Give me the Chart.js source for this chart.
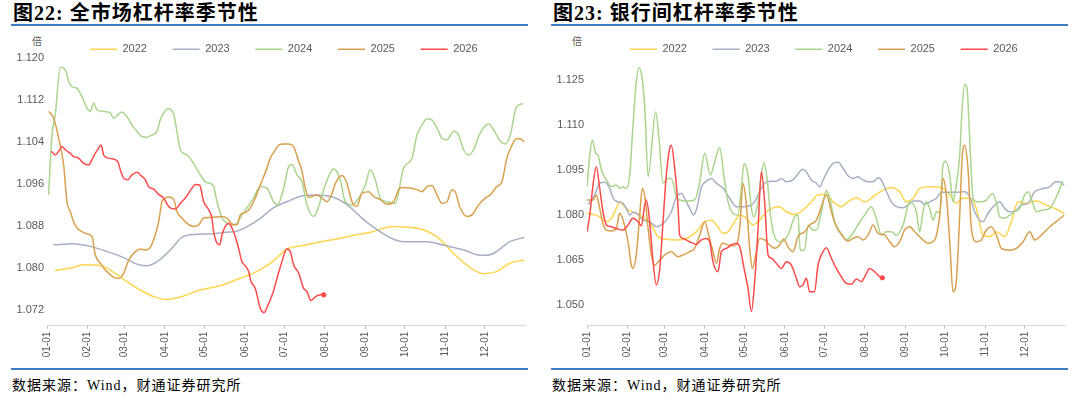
<!DOCTYPE html>
<html><head><meta charset="utf-8">
<script src="https://cdn.jsdelivr.net/npm/chart.js@4"></script>
<style>
body{margin:0;background:#fff;width:1080px;height:405px;overflow:hidden;position:relative;}
.panel{position:absolute;top:0;width:540px;height:405px;}
.title{position:absolute;left:13px;top:1px;font-weight:bold;font-size:20px;letter-spacing:1px;font-family:"Liberation Serif","Noto Sans CJK SC",serif;color:#000;white-space:nowrap;line-height:24px;}
.rule{position:absolute;left:11px;width:517px;height:2px;background:#3F7CC0;}
.unit{position:absolute;left:32px;top:35px;font-size:10px;font-family:"Noto Sans CJK SC",sans-serif;color:#595959;line-height:12px;}
.src{position:absolute;left:12px;top:377px;font-size:14px;letter-spacing:1px;font-family:"Liberation Serif","Noto Sans CJK SC",serif;color:#000;white-space:nowrap;line-height:17px;}
canvas{position:absolute;left:0;top:0;}
</style></head>
<body>
<div class="panel" style="left:0">
  <div class="title">图22: 全市场杠杆率季节性</div>
  <div class="rule" style="top:24px"></div>
  <div class="unit">倍</div>
  <canvas id="c1" width="540" height="365" style="width:540px;height:365px"></canvas>
  <div class="rule" style="top:368px"></div>
  <div class="src">数据来源：Wind，财通证券研究所</div>
</div>
<div class="panel" style="left:540px">
  <div class="title">图23: 银行间杠杆率季节性</div>
  <div class="rule" style="top:24px"></div>
  <div class="unit">倍</div>
  <canvas id="c2" width="540" height="365" style="width:540px;height:365px"></canvas>
  <div class="rule" style="top:368px"></div>
  <div class="src">数据来源：Wind，财通证券研究所</div>
</div>
<script>
// ---- categories / ticks ----
const years = ['2022','2023','2024','2025','2026'];
const monthTicks = [0,31,59,90,120,151,181,212,243,273,304,334];
const monthLabels = ['01-01','02-01','03-01','04-01','05-01','06-01','07-01','08-01','09-01','10-01','11-01','12-01'];
const yTicksMarket = [1.072,1.080,1.088,1.096,1.104,1.112,1.120];
const yTicksBank = [1.050,1.065,1.080,1.095,1.110,1.125];

// ---- 全市场杠杆率 (day of year, value) ----
const m22Day = [6,20,28,41,46,61,71,84,92,102,117,132,147,160,173,183,196,209,221,234,247,264,285,298,310,323,333,343,353,364];
const m22Val = [1.0795,1.0801,1.0806,1.0804,1.0799,1.0774,1.0758,1.0743,1.0740,1.0745,1.0758,1.0766,1.0780,1.0793,1.0814,1.0836,1.0843,1.0850,1.0855,1.0862,1.0868,1.0879,1.0874,1.0858,1.0828,1.0800,1.0789,1.0793,1.0809,1.0815];
const m23Day = [5,19,33,46,58,70,76,84,94,104,114,127,137,145,153,163,173,183,196,206,219,229,242,254,264,272,290,303,318,328,334,341,348,353,364];
const m23Val = [1.0844,1.0846,1.0841,1.0831,1.0820,1.0806,1.0804,1.0812,1.0834,1.0860,1.0864,1.0865,1.0868,1.0870,1.0879,1.0895,1.0915,1.0926,1.0938,1.0939,1.0934,1.0920,1.0891,1.0869,1.0855,1.0850,1.0850,1.0843,1.0834,1.0825,1.0824,1.0828,1.0841,1.0850,1.0858];
const m24Day = [1.2,3.8,6.3,10.1,14,16.5,19,22.9,26.7,30.5,33,35.6,38.1,43.2,48.3,50.8,54.6,57.2,61,64.8,68.6,72.4,76.3,80.1,83.9,86.4,89,92,96.6,99.1,101.7,106.8,111.8,116.9,120.8,124.6,127.1,129.7,133.5,137.3,141.1,145,148.7,152.5,157.6,162.7,167.8,172.9,175.9,180.5,184.3,186.9,190.7,194.5,198.3,203.4,207.2,212.3,218.6,223.7,227.5,232.6,237.7,242.8,246.6,250.4,254.2,259.3,265.7,272,278.4,282.2,286,289.8,293.6,297.5,301.3,305.1,310.2,314,317.8,321.6,325.4,330.5,336.9,340.7,345.8,349.6,353.4,358,363];
const m24Val = [1.0939,1.1053,1.1091,1.1182,1.1177,1.1155,1.1145,1.1142,1.1126,1.1104,1.1098,1.1114,1.1101,1.1098,1.1095,1.1085,1.1093,1.1097,1.1088,1.1072,1.1060,1.1050,1.1049,1.1053,1.1060,1.1082,1.1095,1.1103,1.1093,1.1060,1.1025,1.1015,1.0999,1.0977,1.0964,1.0961,1.0955,1.0926,1.0895,1.0885,1.0882,1.0885,1.0901,1.0914,1.0933,1.0955,1.0952,1.0926,1.0920,1.0952,1.0993,1.0997,1.0977,1.0964,1.0920,1.0898,1.0917,1.0958,1.0989,1.0968,1.0926,1.0920,1.0933,1.0958,1.0987,1.0968,1.0933,1.0926,1.0923,1.0990,1.1009,1.1053,1.1072,1.1084,1.1082,1.1066,1.1047,1.1044,1.1060,1.1053,1.1025,1.1015,1.1025,1.1057,1.1074,1.1063,1.1041,1.1036,1.1053,1.1106,1.1113];
const m25Day = [1.2,5.1,8.9,12.7,15.2,17.8,20.3,22.9,26.7,30.5,34.3,36.8,40.7,44.5,48.3,50.8,54.6,58.5,62.3,67.4,71.2,75,78.8,82.6,85.2,87.7,90.2,92.8,96.6,99.1,102.9,106.8,111.8,115.7,119.5,124.6,129.7,133.5,137.3,142.4,145,147.4,152.5,157.6,162.7,167.8,170.3,173.5,176.7,180.5,184.3,188.1,192,194.5,197,199.6,202.1,205.9,209.8,213.6,217.4,220,225,228.8,232.6,236.4,240.2,245.3,249.2,254.2,259.3,264.4,268.2,270.8,277.1,282.2,286,289.8,293.6,297.5,301.3,305.1,308.9,311.4,315.2,320.3,324.2,329.2,334.3,338.1,343.2,347,350.8,354,358,361,364];
const m25Val = [1.1098,1.1085,1.1047,1.0996,1.0926,1.0907,1.0888,1.0876,1.0869,1.0865,1.0860,1.0825,1.0809,1.0796,1.0787,1.0782,1.0780,1.0790,1.0815,1.0831,1.0836,1.0834,1.0839,1.0863,1.0888,1.0926,1.0933,1.0935,1.0931,1.0907,1.0895,1.0885,1.0879,1.0882,1.0895,1.0896,1.0897,1.0898,1.0895,1.0882,1.0882,1.0901,1.0907,1.0926,1.0958,1.0990,1.1009,1.1022,1.1034,1.1036,1.1036,1.1031,1.1003,1.0984,1.0952,1.0934,1.0936,1.0939,1.0933,1.0926,1.0942,1.0961,1.0976,1.0961,1.0926,1.0917,1.0942,1.0945,1.0936,1.0930,1.0921,1.0926,1.0949,1.0953,1.0952,1.0949,1.0945,1.0955,1.0957,1.0939,1.0923,1.0926,1.0949,1.0945,1.0914,1.0898,1.0901,1.0920,1.0933,1.0939,1.0955,1.0964,1.1009,1.1030,1.1046,1.1046,1.1040];
const m26Day = [3.3,6.3,8.9,11.4,14,17.8,20.3,24.1,27.9,31.8,34.3,36.8,39.4,41.2,43.2,45.7,49.6,53.9,55.9,58.5,61.5,64.8,69.1,71.2,75,77.5,81.3,85.2,89,92.8,96.6,99.1,101.7,105.5,108,110.6,113.1,116.4,119.5,123.3,125.8,127.1,129.7,131.7,133.5,136,138.5,141.1,143.6,146.2,148.7,151.3,153.8,155.6,158.9,162.7,165.7,168.3,170.3,172.9,175.4,177.5,179.2,183,185.6,188.1,192,195.8,198.3,201.3,204.7,208.5,211.1];
const m26Val = [1.1022,1.1015,1.1022,1.1031,1.1025,1.1018,1.1012,1.1009,1.0999,1.0996,1.1006,1.1018,1.1028,1.1034,1.1015,1.1010,1.1008,1.1003,1.0987,1.0971,1.0968,1.0977,1.0982,1.0977,1.0968,1.0955,1.0950,1.0940,1.0933,1.0917,1.0912,1.0914,1.0923,1.0933,1.0942,1.0952,1.0959,1.0958,1.0926,1.0911,1.0895,1.0869,1.0847,1.0844,1.0863,1.0879,1.0885,1.0876,1.0860,1.0837,1.0812,1.0804,1.0793,1.0774,1.0761,1.0723,1.0715,1.0728,1.0739,1.0757,1.0780,1.0798,1.0812,1.0836,1.0831,1.0806,1.0790,1.0761,1.0755,1.0738,1.0745,1.0749,1.0749];

// ---- 银行间杠杆率 (day of year, value) ----
const b22Day = [0,4.6,9.7,14.8,18.6,22.4,24.9,27.5,31.3,37.6,44,49.1,54.2,60.5,68.1,75.8,83.4,89.8,94.9,98.7,103.8,107.6,112.7,116.5,121.6,126.6,131.7,136.8,141.9,146.9,152,158.4,164.8,171.1,176.2,182.6,187.7,194,199.1,205.5,211.8,218.2,224.5,232.2,238.5,243.6,248.7,253.8,261.4,270.3,276.7,281.7,286.8,291.9,297,302.1,307.2,312.3,318.6,323.7,328.8,335.1,342.8,350.4,353,358,364];
const b22Val = [1.0806,1.0802,1.0794,1.0778,1.0789,1.0822,1.0844,1.0833,1.0817,1.0806,1.0789,1.0767,1.0728,1.0719,1.0717,1.0722,1.0744,1.0778,1.0783,1.0767,1.0739,1.0744,1.0778,1.0800,1.0789,1.0767,1.0783,1.0811,1.0824,1.0828,1.0811,1.0802,1.0817,1.0844,1.0867,1.0869,1.0844,1.0828,1.0844,1.0858,1.0844,1.0861,1.0880,1.0891,1.0878,1.0844,1.0856,1.0889,1.0894,1.0891,1.0867,1.0839,1.0856,1.0856,1.0822,1.0733,1.0728,1.0744,1.0728,1.0778,1.0844,1.0839,1.0847,1.0833,1.0828,1.0820,1.0805];
const b23Day = [1,5.9,9.7,13.5,17.3,19.9,23.7,27.5,30,32.6,35.1,38.9,42.7,47.8,52.9,56.7,60.5,64.3,68.2,72,75.8,79.6,80.9,83.4,87.3,91.1,94.9,98.7,103.8,108.8,113.9,119,124.1,127.9,131.7,135.5,140.6,144.4,148.2,152.1,157.1,162.2,164.8,167.3,171.1,175,177.5,180.1,183.9,187.7,191.5,195.3,199.1,202.9,206.7,210.6,214.4,218.2,222,224.5,228.4,232.2,236,241.1,244.9,248.7,253.8,257.6,261.4,266.5,270.3,274.1,281.7,288.1,291.9,295.7,299.5,302.1,305.9,311,314.8,318.6,322.4,326.3,331.3,336.4,341.5,346.6,353,357,360,364];
const b23Val = [1.0835,1.0867,1.0906,1.0909,1.0889,1.0856,1.0844,1.0839,1.0822,1.0800,1.0809,1.0802,1.0783,1.0778,1.0761,1.0767,1.0783,1.0811,1.0861,1.0872,1.0844,1.0811,1.0800,1.0817,1.0894,1.0913,1.0922,1.0906,1.0889,1.0856,1.0828,1.0828,1.0831,1.0844,1.0878,1.0906,1.0913,1.0913,1.0922,1.0911,1.0917,1.0944,1.0953,1.0944,1.0917,1.0906,1.0894,1.0917,1.0950,1.0972,1.0976,1.0956,1.0931,1.0922,1.0928,1.0917,1.0911,1.0911,1.0924,1.0917,1.0878,1.0844,1.0828,1.0824,1.0833,1.0847,1.0847,1.0836,1.0844,1.0856,1.0876,1.0876,1.0876,1.0878,1.0861,1.0811,1.0783,1.0778,1.0806,1.0833,1.0844,1.0822,1.0811,1.0813,1.0833,1.0839,1.0878,1.0887,1.0894,1.0910,1.0911,1.0900];
const b24Day = [0,2.1,4.1,6.6,8.4,11,14.8,18.6,22.4,24.9,27.5,30,32.6,35.1,37.6,39.7,41.7,44,46.6,52.4,55,58,61.8,64.3,68.2,70.7,75.8,82.1,86,89.8,94.1,97.4,101.2,105,107.6,111.3,115.2,117.7,119.8,122.8,125.4,127.2,130.5,133,135,137.3,140.6,144.4,148.2,153.3,158.4,160.9,162.7,166,168.6,172.4,175,178.8,182.6,185.1,188.9,194,197.8,201.7,206.7,211.8,216.9,220.7,224.5,228.4,232.2,236,241.1,246.2,251.2,253.8,256.3,258.9,261.4,264,266.5,269.1,271.6,273.6,276.7,279.2,281.3,284.3,286.3,288.1,289.9,291.9,294.5,297,300.8,304.6,309.2,312.2,314.8,318.6,322.4,326.3,330.1,333.9,336.4,339.7,342.8,347.9,353,358,363];
const b24Val = [1.0894,1.1000,1.1050,1.1006,1.1000,1.0950,1.0917,1.0894,1.0900,1.0889,1.0894,1.0889,1.0933,1.1100,1.1244,1.1291,1.1267,1.1167,1.0928,1.1144,1.1050,1.0906,1.0922,1.0922,1.0861,1.0850,1.0847,1.0850,1.0911,1.1006,1.0933,1.0978,1.1024,1.0911,1.0844,1.0806,1.0800,1.0889,1.0972,1.0933,1.0822,1.0794,1.0844,1.0933,1.0976,1.0922,1.0778,1.0717,1.0711,1.0733,1.0794,1.0800,1.0683,1.0683,1.0767,1.0750,1.0750,1.0811,1.0883,1.0856,1.0778,1.0739,1.0717,1.0733,1.0767,1.0800,1.0828,1.0789,1.0733,1.0744,1.0744,1.0733,1.0767,1.0844,1.0811,1.0744,1.0811,1.0844,1.0822,1.0783,1.0811,1.0806,1.0967,1.0980,1.0933,1.0844,1.0889,1.1000,1.1167,1.1236,1.1222,1.1056,1.0856,1.0844,1.0844,1.0850,1.0872,1.0844,1.0794,1.0789,1.0800,1.0811,1.0822,1.0867,1.0878,1.0844,1.0811,1.0817,1.0822,1.0860,1.0913];
const b25Day = [0,4.6,7.1,9.7,12.2,14.8,18.6,22.4,24.9,27.5,31.3,33.8,35.1,37.6,40.2,42.2,44.3,46.6,49.1,51.6,55.5,59.3,64.3,69.4,73.3,78.3,82.1,86,89.8,93.1,96.1,98.7,101.2,103.8,107.6,111.3,113.9,116.5,119,121.6,124.1,126.1,128.7,131.7,135.5,139.4,143.2,147,150,153.3,157.1,160.9,166,169.9,175,178.8,182.6,186.4,190.2,195.3,199.1,202.9,206.7,210.6,214.4,218.2,222,227.1,230.9,234.7,238.5,242.3,246.2,250,255.1,260.1,265.2,269.1,271.6,274.1,276.7,279.2,281.7,284.3,286.3,288.1,290.6,293.2,297,300.8,304.6,308.4,312.3,316.1,322.4,327.5,332.6,337.7,341.5,346.6,353,358,364];
const b25Val = [1.0850,1.0850,1.0867,1.0822,1.0772,1.0750,1.0747,1.0756,1.0806,1.0783,1.0711,1.0633,1.0622,1.0667,1.0800,1.0889,1.0856,1.0756,1.0667,1.0633,1.0650,1.0667,1.0678,1.0661,1.0667,1.0678,1.0689,1.0733,1.0778,1.0728,1.0678,1.0639,1.0689,1.0706,1.0700,1.0698,1.0702,1.0756,1.0906,1.0833,1.0689,1.0622,1.0667,1.0722,1.0717,1.0700,1.0689,1.0700,1.0720,1.0694,1.0678,1.0728,1.0744,1.0767,1.0783,1.0828,1.0867,1.0811,1.0761,1.0728,1.0713,1.0722,1.0728,1.0717,1.0733,1.0767,1.0739,1.0733,1.0711,1.0694,1.0711,1.0750,1.0761,1.0744,1.0722,1.0706,1.0717,1.0800,1.0922,1.0867,1.0711,1.0544,1.0578,1.0800,1.1000,1.1033,1.0956,1.0756,1.0711,1.0717,1.0750,1.0761,1.0733,1.0689,1.0683,1.0689,1.0711,1.0744,1.0717,1.0733,1.0761,1.0778,1.0800];
const b26Day = [0,2.1,4.6,7.1,9.7,12.2,14.8,18.6,23.7,27.5,31.3,35.1,38.9,41.5,44,45.3,47.8,50.4,52.9,55.5,58,60.5,63.1,64.3,66.9,69.4,70.7,73.3,78.3,83.4,87.2,91.1,93.6,96.1,99.9,102.5,106.3,110.1,113.9,116.5,120.3,122.8,125.4,127.9,130.5,133,135.5,138.1,140.6,144.4,148.2,152.1,155.9,159.7,162.2,164.8,167.3,169.9,173.5,176.2,178.8,182.6,186.4,190.2,194,197.8,201.7,205.5,209.3,211.8,215.6,219.4,223.3,225.3];
const b26Val = [1.0744,1.0800,1.0900,1.0961,1.0889,1.0811,1.0767,1.0761,1.0753,1.0750,1.0767,1.0789,1.0778,1.0764,1.0833,1.0850,1.0778,1.0644,1.0567,1.0622,1.0778,1.0933,1.1022,1.1033,1.0956,1.0833,1.0733,1.0722,1.0711,1.0702,1.0717,1.0722,1.0711,1.0644,1.0611,1.0678,1.0689,1.0700,1.0706,1.0694,1.0611,1.0556,1.0478,1.0578,1.0756,1.0944,1.0844,1.0667,1.0656,1.0639,1.0622,1.0644,1.0633,1.0589,1.0561,1.0567,1.0589,1.0544,1.0544,1.0633,1.0667,1.0691,1.0656,1.0622,1.0594,1.0572,1.0569,1.0587,1.0578,1.0594,1.0622,1.0611,1.0594,1.0591];

// ---- styling ----
const lineColors = ['#FFD54F','#A7AFC3','#AAD58E','#D9A04F','#FF4B4B'];
Chart.defaults.font.family = "'Liberation Sans', Arial, sans-serif";
Chart.defaults.color = '#595959';

const zip = (d, v) => d.map((x, i) => ({x: x, y: v[i]}));

// shift the legend row so that it starts where the reference legend starts
const legendShift = {
  id: 'legendShift',
  afterLayout(chart, args, opts) {
    const lg = chart.legend;
    if (lg) { const w = lg.right - lg.left; lg.left = opts.left; lg.right = opts.left + w; }
  }
};

function makeChart(id, series, yMin, yMax, yTicks) {
  const datasets = series.map((s, i) => {
    const data = zip(s[0], s[1]);
    const isLast = i === series.length - 1;
    return {
      label: years[i],
      data: data,
      borderColor: lineColors[i],
      backgroundColor: lineColors[i],
      borderWidth: 1.5,
      pointRadius: isLast ? data.map((p, k) => k === data.length - 1 ? 1.8 : 0) : 0,
      pointBackgroundColor: lineColors[i],
      pointBorderColor: lineColors[i],
      pointBorderWidth: 1.5,
      pointHoverRadius: 0,
      cubicInterpolationMode: 'monotone',
      fill: false,
      order: series.length - 1 - i
    };
  });
  return new Chart(document.getElementById(id), {
    type: 'line',
    data: {datasets: datasets},
    plugins: [legendShift],
    options: {
      responsive: false,
      animation: false,
      events: [],
      layout: {padding: {left: 0, right: 14.5, top: 18, bottom: 0}},
      plugins: {
        legendShift: {left: 64.3},
        tooltip: {enabled: false},
        legend: {
          display: true,
          position: 'top',
          align: 'start',
          maxHeight: 39.3,
          labels: {
            usePointStyle: true,
            pointStyle: 'line',
            pointStyleWidth: 27,
            padding: 25.7,
            color: '#595959',
            font: {size: 11},
            sort: (a, b) => a.datasetIndex - b.datasetIndex
          }
        }
      },
      scales: {
        x: {
          type: 'linear',
          min: 0,
          max: 365,
          afterBuildTicks: s => { s.ticks = monthTicks.map(v => ({value: v})); },
          afterFit: s => { s.height = 39.3; },
          ticks: {
            autoSkip: false,
            minRotation: 90,
            maxRotation: 90,
            padding: 3,
            font: {size: 10},
            color: '#595959',
            callback: (v, i) => monthLabels[i]
          },
          grid: {display: true, drawOnChartArea: false, drawTicks: true, tickLength: 3, color: '#bfbfbf'},
          border: {display: true, color: '#d9d9d9', width: 1}
        },
        y: {
          type: 'linear',
          min: yMin,
          max: yMax,
          afterBuildTicks: s => { s.ticks = yTicks.map(v => ({value: v})); },
          afterFit: s => { s.width = 47; },
          ticks: {
            padding: 3,
            font: {size: 11},
            color: '#595959',
            callback: v => v.toFixed(3)
          },
          grid: {display: false, drawTicks: false},
          border: {display: false}
        }
      }
    }
  });
}

makeChart('c1', [[m22Day, m22Val],[m23Day, m23Val],[m24Day, m24Val],[m25Day, m25Val],[m26Day, m26Val]], 1.069, 1.1201, yTicksMarket);
makeChart('c2', [[b22Day, b22Val],[b23Day, b23Val],[b24Day, b24Val],[b25Day, b25Val],[b26Day, b26Val]], 1.0431, 1.1326, yTicksBank);
</script>
</body></html>
